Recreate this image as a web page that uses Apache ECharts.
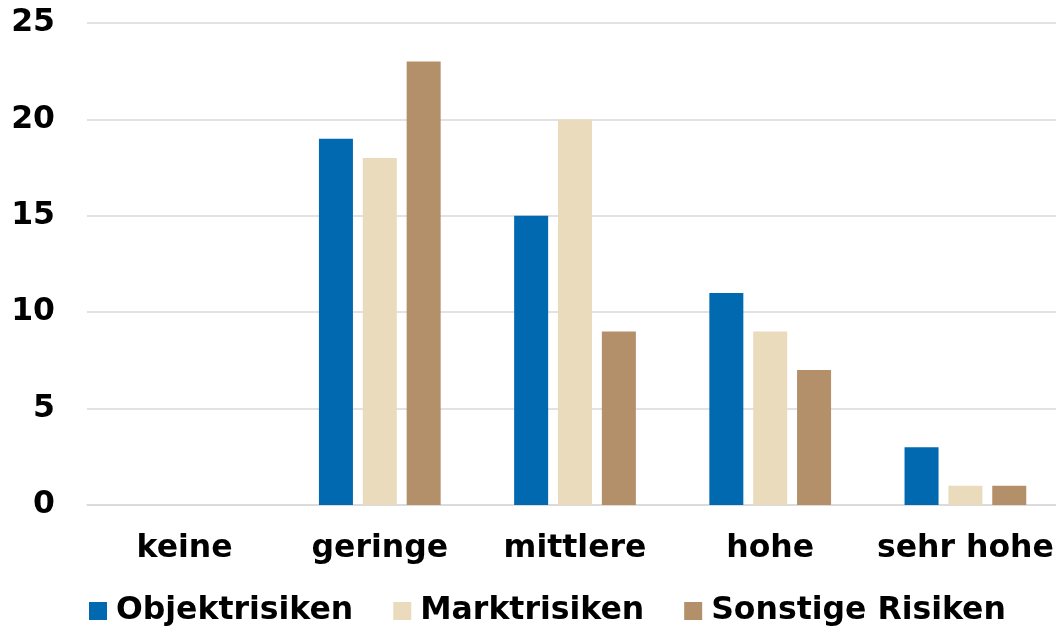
<!DOCTYPE html>
<html><head><meta charset="utf-8">
<script src="https://cdn.jsdelivr.net/npm/echarts@6/dist/echarts.min.js"></script>
<style>html,body{margin:0;padding:0;background:#fff}#c{width:1056px;height:626px}</style>
</head><body><div id="c"></div>
<script>
const categories = ['keine', 'geringe', 'mittlere', 'hohe', 'sehr hohe'];
const seriesNames = ['Objektrisiken', 'Marktrisiken', 'Sonstige Risiken'];
const objektrisiken = [0, 19, 15, 11, 3];
const marktrisiken = [0, 18, 20, 9, 1];
const sonstigeRisiken = [0, 23, 9, 7, 1];
const yTicks = [0, 5, 10, 15, 20, 25];
const colors = ['#0069B0', '#EADBBD', '#B38F6A'];
const font = 'DejaVu Sans';
const chart = echarts.init(document.getElementById('c'));
const mk = (name, data, color) => ({
  name, type: 'bar', data, barWidth: 34, barGap: '29%',
  itemStyle: { color }, emphasis: { disabled: true }
});
chart.setOption({
  animation: false,
  grid: { left: 87, width: 976, top: 23, bottom: 121, containLabel: false, outerBoundsMode: 'none' },
  legend: {
    left: 84, top: 590, itemWidth: 18, itemHeight: 18, itemGap: 40,
    icon: 'rect',
    textStyle: { fontFamily: font, fontWeight: 'bold', fontSize: 31.5, color: '#000', padding: [0, 0, 0, 4] },
    data: seriesNames
  },
  xAxis: {
    type: 'category', data: categories,
    axisLine: { lineStyle: { color: '#d9d9d9', width: 1.5 } },
    axisTick: { show: false },
    axisLabel: { fontFamily: font, fontWeight: 'bold', fontSize: 31.5, color: '#000', margin: 28, interval: 0 }
  },
  yAxis: {
    type: 'value', min: yTicks[0], max: yTicks[yTicks.length - 1], interval: 5,
    axisLine: { show: false }, axisTick: { show: false },
    splitLine: { lineStyle: { color: '#d9d9d9', width: 1.5 } },
    axisLabel: { fontFamily: font, fontWeight: 'bold', fontSize: 31.5, color: '#000', margin: 32 }
  },
  series: [
    mk(seriesNames[0], objektrisiken, colors[0]),
    mk(seriesNames[1], marktrisiken, colors[1]),
    mk(seriesNames[2], sonstigeRisiken, colors[2])
  ]
});
</script></body></html>
